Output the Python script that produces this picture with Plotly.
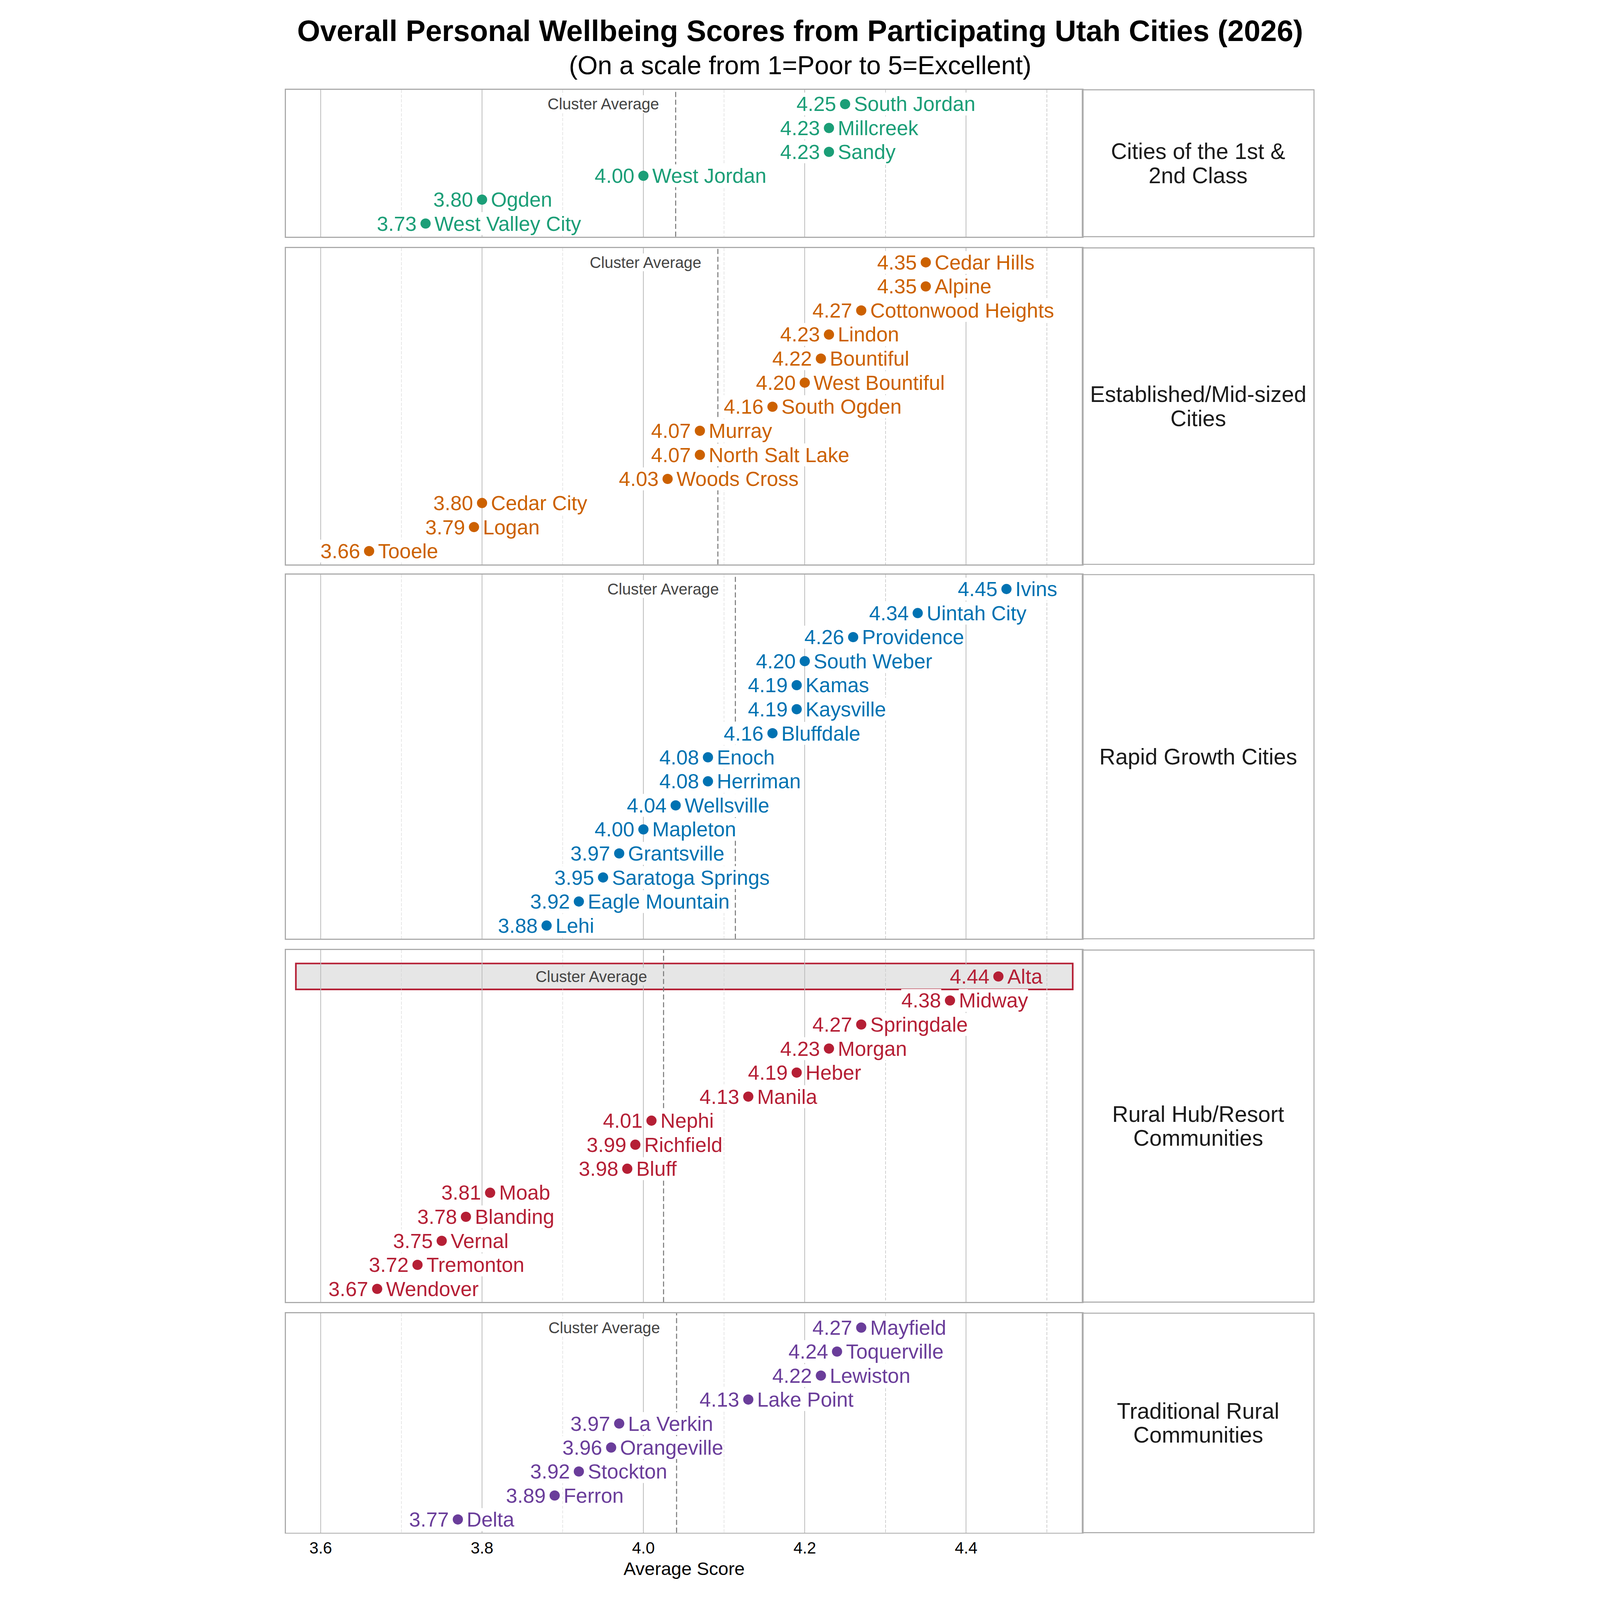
import plotly.graph_objects as go

# reference was laid out on a 1045 px wide canvas, the page is 4800 wide
W, H = 4800, 7200
S = W / 1045

clusters = ["Cities of the 1st &\n2nd Class",
            "Established/Mid-sized\nCities",
            "Rapid Growth Cities",
            "Rural Hub/Resort\nCommunities",
            "Traditional Rural\nCommunities"]
colors = ["#1b9e77", "#cc6100", "#0072b2", "#b51f35", "#6a3d9a"]

first_second_cities = ["South Jordan", "Millcreek", "Sandy", "West Jordan", "Ogden", "West Valley City"]
first_second_scores = [4.25, 4.23, 4.23, 4.00, 3.80, 3.73]

established_cities = ["Cedar Hills", "Alpine", "Cottonwood Heights", "Lindon", "Bountiful",
                      "West Bountiful", "South Ogden", "Murray", "North Salt Lake",
                      "Woods Cross", "Cedar City", "Logan", "Tooele"]
established_scores = [4.35, 4.35, 4.27, 4.23, 4.22, 4.20, 4.16, 4.07, 4.07, 4.03, 3.80, 3.79, 3.66]

rapid_cities = ["Ivins", "Uintah City", "Providence", "South Weber", "Kamas", "Kaysville",
                "Bluffdale", "Enoch", "Herriman", "Wellsville", "Mapleton", "Grantsville",
                "Saratoga Springs", "Eagle Mountain", "Lehi"]
rapid_scores = [4.45, 4.34, 4.26, 4.20, 4.19, 4.19, 4.16, 4.08, 4.08, 4.04, 4.00, 3.97, 3.95, 3.92, 3.88]

rural_hub_cities = ["Alta", "Midway", "Springdale", "Morgan", "Heber", "Manila", "Nephi",
                    "Richfield", "Bluff", "Moab", "Blanding", "Vernal", "Tremonton", "Wendover"]
rural_hub_scores = [4.44, 4.38, 4.27, 4.23, 4.19, 4.13, 4.01, 3.99, 3.98, 3.81, 3.78, 3.75, 3.72, 3.67]

traditional_cities = ["Mayfield", "Toquerville", "Lewiston", "Lake Point", "La Verkin",
                      "Orangeville", "Stockton", "Ferron", "Delta"]
traditional_scores = [4.27, 4.24, 4.22, 4.13, 3.97, 3.96, 3.92, 3.89, 3.77]

cities = [first_second_cities, established_cities, rapid_cities, rural_hub_cities, traditional_cities]
scores = [first_second_scores, established_scores, rapid_scores, rural_hub_scores, traditional_scores]
highlight = "Alta"

tick_vals = [3.6, 3.8, 4.0, 4.2, 4.4]
tick_text = ["3.6", "3.8", "4.0", "4.2", "4.4"]

FONT = "Liberation Sans, Arial, sans-serif"
GRID = "#bdbdbd"
SPINE = "#ababab"
HL_FILL = "#e6e6e6"

# panel placement (paper fractions of the plot area)
y_domains = [[0.8982, 1.0], [0.6711, 0.8904], [0.4116, 0.6640], [0.1598, 0.4038], [0.0, 0.1521]]
x_main = [0.0, 0.7746]
top_pad = [0.6, 0.6, 0.6, 1.1, 0.6]

fig = go.Figure()
annotations = []
shapes = []

for i in range(5):
    n = i + 1
    xa = "x" if n == 1 else f"x{n}"
    ya = "y" if n == 1 else f"y{n}"
    col = colors[i]
    avg = sum(scores[i]) / len(scores[i])

    fig.add_trace(go.Scatter(x=scores[i], y=cities[i], mode="markers",
                             marker=dict(color=col, size=10 * S, line=dict(width=0)),
                             xaxis=xa, yaxis=ya, showlegend=False, cliponaxis=False,
                             hovertemplate="%{y}: %{x:.2f}<extra></extra>"))

    fig.layout[f"xaxis{'' if n == 1 else n}"] = dict(
        domain=x_main, range=[3.557, 4.544], anchor=ya,
        tickvals=tick_vals, ticktext=tick_text, showticklabels=(n == 5),
        ticks="", tickfont=dict(family=FONT, size=16 * S, color="black"),
        showgrid=True, gridcolor=GRID, gridwidth=0.75 * S,
        minor=dict(dtick=0.1, tick0=3.5, showgrid=True, gridcolor="#d0d0d0",
                   gridwidth=0.7 * S, griddash=f"{3 * S}px,{1.6 * S}px"),
        showline=True, mirror=True, linecolor=SPINE, linewidth=1.0 * S,
        zeroline=False, fixedrange=True)
    fig.layout[f"yaxis{'' if n == 1 else n}"] = dict(
        domain=y_domains[i], anchor=xa, type="category",
        categoryorder="array", categoryarray=cities[i],
        range=[len(cities[i]) - 0.45, -top_pad[i]],
        showticklabels=False, showgrid=False, ticks="",
        showline=True, mirror=True, linecolor=SPINE, linewidth=1.0 * S,
        zeroline=False, fixedrange=True)

    # highlighted city band
    if highlight in cities[i]:
        k = cities[i].index(highlight)
        shapes.append(dict(type="rect", xref=f"{xa} domain", yref=ya,
                           x0=0.0124, x1=0.988, y0=k - 0.54, y1=k + 0.54,
                           fillcolor=HL_FILL, line=dict(color=col, width=1.6 * S),
                           layer="below"))

    # cluster average
    shapes.append(dict(type="line", xref=xa, yref=f"{ya} domain", x0=avg, x1=avg, y0=0, y1=1,
                       line=dict(color="#7a7a7a", width=1.0 * S, dash=f"{5 * S}px,{2.6 * S}px")))
    annotations.append(dict(x=avg, y=cities[i][0], xref=xa, yref=ya, text="Cluster Average",
                            showarrow=False, xanchor="right", xshift=-16 * S,
                            font=dict(family=FONT, size=15.4 * S, color="#444444"),
                            bgcolor=HL_FILL if cities[i][0] == highlight else "white", borderpad=0))

    # value / name labels either side of the dot
    for city, v in zip(cities[i], scores[i]):
        bg = HL_FILL if city == highlight else "white"
        annotations.append(dict(x=v, y=city, xref=xa, yref=ya, text=f"{v:.2f}", showarrow=False,
                                xanchor="right", xshift=-8.5 * S, bgcolor=bg, borderpad=0,
                                font=dict(family=FONT, size=20 * S, color=col)))
        annotations.append(dict(x=v, y=city, xref=xa, yref=ya, text=city, showarrow=False,
                                xanchor="left", xshift=8.5 * S, bgcolor=bg, borderpad=0,
                                font=dict(family=FONT, size=20 * S, color=col)))

    # facet strip on the right
    shapes.append(dict(type="rect", xref="paper", yref=f"{ya} domain",
                       x0=x_main[1], x1=1, y0=0, y1=1, line=dict(color=SPINE, width=1.0 * S)))
    lines = clusters[i].split("\n")
    for j, line in enumerate(lines):
        off = (len(lines) - 1) / 2 - j
        annotations.append(dict(x=(x_main[1] + 1) / 2, y=0.5, xref="paper", yref=f"{ya} domain",
                                text=line, showarrow=False, yshift=off * 23.6 * S,
                                xanchor="center", yanchor="middle",
                                font=dict(family=FONT, size=21.8 * S, color="#1a1a1a")))

# titles
annotations.append(dict(x=0.5, y=1.0410, xref="paper", yref="paper", showarrow=False,
                        xanchor="center", yanchor="middle",
                        text="<b>Overall Personal Wellbeing Scores from Participating Utah Cities (2026)</b>",
                        font=dict(family=FONT, size=29 * S, color="black")))
annotations.append(dict(x=0.5, y=1.0170, xref="paper", yref="paper", showarrow=False,
                        xanchor="center", yanchor="middle",
                        text="(On a scale from 1=Poor to 5=Excellent)",
                        font=dict(family=FONT, size=25.4 * S, color="black")))
annotations.append(dict(x=(x_main[0] + x_main[1]) / 2, y=-0.0248, xref="paper", yref="paper",
                        showarrow=False, text="Average Score", xanchor="center", yanchor="middle",
                        font=dict(family=FONT, size=18 * S, color="black")))

fig.update_layout(
    width=W, height=H,
    margin=dict(l=19 * S, r=19 * S, t=88 * S, b=66 * S),
    paper_bgcolor="white", plot_bgcolor="white",
    font=dict(family=FONT, color="#222222"),
    shapes=shapes, annotations=annotations, showlegend=False,
)

# the browser viewport may be smaller than the figure: shrink the whole page to fit
fit_js = f"""
document.body.style.margin = '0';
document.body.style.overflow = 'hidden';
var gd = document.getElementById('{{plot_id}}');
var s = Math.min(window.innerWidth / {W}, window.innerHeight / {H}, 1);
gd.style.transformOrigin = '0 0';
gd.style.transform = 'translate(' + ((window.innerWidth - {W} * s) / 2) + 'px, 0px) scale(' + s + ')';
"""

fig.write_html("out.html", config={"displayModeBar": False}, post_script=fit_js)
